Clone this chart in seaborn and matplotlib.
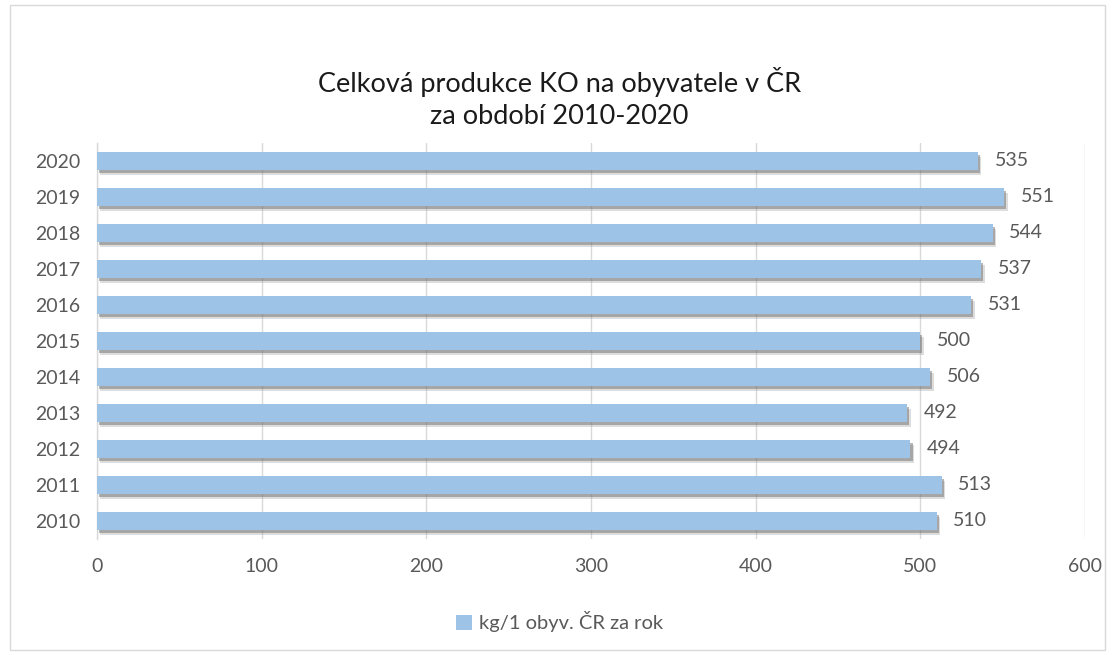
import matplotlib
matplotlib.use("Agg")
import matplotlib.pyplot as plt
import matplotlib.patheffects as pe
from matplotlib.patches import Rectangle, Patch
import seaborn as sns
import pandas as pd

years = ["2020", "2019", "2018", "2017", "2016", "2015", "2014", "2013", "2012", "2011", "2010"]
values = [535, 551, 544, 537, 531, 500, 506, 492, 494, 513, 510]
series_name = "kg/1 obyv. ČR za rok"
title = "Celková produkce KO na obyvatele v ČR\nza období 2010-2020"

sns.set_theme(style="white")
plt.rcParams['font.family'] = ['Lato', 'DejaVu Sans']

df = pd.DataFrame({"year": years, "value": values})

fig = plt.figure(figsize=(11.19, 6.55), dpi=100)
ax = fig.add_axes([97/1119, 1-539/655, (1085-97)/1119, (539-143)/655])

bar_color = "#9DC3E6"
text_color = "#595959"

sns.barplot(data=df, x="value", y="year", order=years, orient="h",
            color=bar_color, width=0.5, saturation=1, ax=ax, zorder=3,
            linewidth=0, edgecolor="none")
for p in ax.patches:
    p.set_linewidth(0)
    p.set_path_effects([
        pe.SimplePatchShadow(offset=(2.5, -3.5), shadow_rgbFace="#909090", alpha=0.3),
        pe.SimplePatchShadow(offset=(1.5, -2.5), shadow_rgbFace="#707070", alpha=0.5),
        pe.Normal()])

for i, v in enumerate(values):
    ax.text(v + 10, i, str(v), va="center", ha="left", fontsize=14, color=text_color)

ax.set_xlim(0, 600)
ax.set_xticks([0, 100, 200, 300, 400, 500, 600])
ax.set_xlabel("")
ax.set_ylabel("")
ax.grid(axis="x", color="#D9D9D9", linewidth=1, zorder=0)
ax.set_axisbelow(True)
for s in ["top", "right", "bottom"]:
    ax.spines[s].set_visible(False)
ax.spines["left"].set_color("#D9D9D9")
ax.spines["left"].set_linewidth(1)
ax.tick_params(axis="y", length=0, labelsize=14, colors=text_color, pad=12)
ax.tick_params(axis="x", length=0, labelsize=14, colors=text_color, pad=14)

fig.text(0.5, 1-98/655, title, ha="center", va="center", fontsize=19.5, color="#1a1a1a", linespacing=1.35)

handle = Patch(facecolor=bar_color, edgecolor="none")
fig.legend([handle], [series_name], loc="center", bbox_to_anchor=(0.5, 1-622/655), frameon=False,
           fontsize=14.5, labelcolor=text_color, handlelength=0.8, handleheight=0.8, handletextpad=0.3)

fig.patches.append(Rectangle((10/1119, 5/655), 1095/1119, 645/655, transform=fig.transFigure,
                             fill=False, edgecolor="#D9D9D9", linewidth=1))

fig.savefig("out.png", dpi=100)
